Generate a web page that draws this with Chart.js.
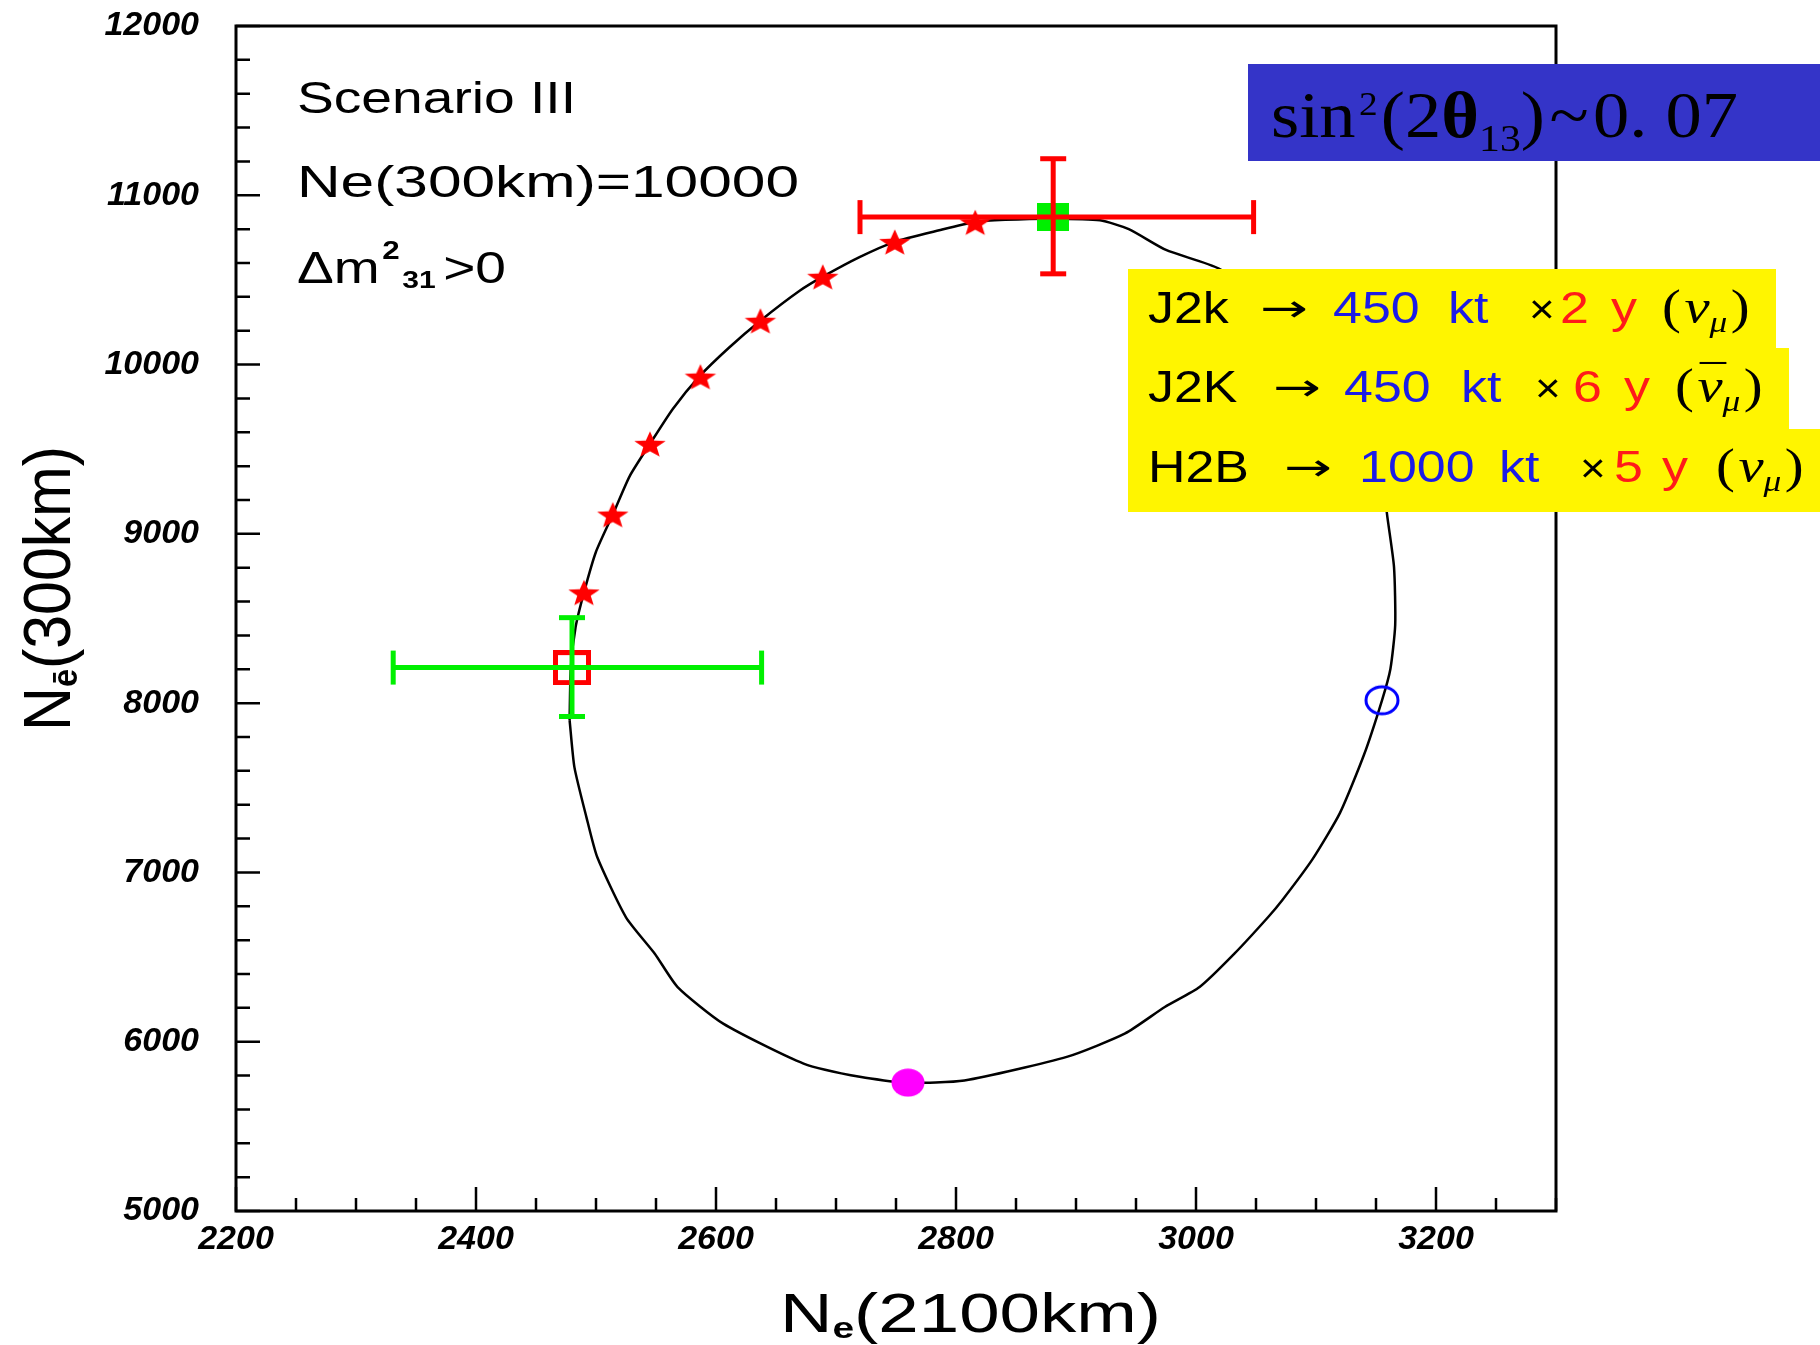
<!DOCTYPE html>
<html>
<head>
<meta charset="utf-8">
<title>Ne(2100km) vs Ne(300km)</title>
<script src="https://cdn.jsdelivr.net/npm/chart.js@4.4.1/dist/chart.umd.min.js"></script>
<style>
  html, body { margin: 0; padding: 0; background: #fff; }
  canvas { display: block; }
</style>
</head>
<body>
<canvas id="plot" width="1820" height="1345"></canvas>
<script>
// allowed contour, traced clockwise from the left edge
const curveX = [2478, 2479, 2483, 2490, 2500, 2514, 2528, 2545, 2564, 2586, 2611, 2637, 2670, 2689,
  2720, 2749, 2786, 2815, 2841, 2880, 2920, 2944, 2975, 3019, 3067, 3110, 3139, 3156, 3159, 3165,
  3166, 3162, 3155, 3140, 3120, 3097, 3072, 3060, 3032, 3003, 2974, 2941, 2893, 2807, 2759, 2721,
  2673, 2606, 2568, 2549, 2525, 2501, 2492, 2482, 2478];
const curveY = [7900, 8209, 8449, 8654, 8894, 9114, 9340, 9532, 9738, 9929, 10101, 10259, 10437, 10519,
  10636, 10725, 10793, 10841, 10855, 10862, 10852, 10800, 10677, 10567, 10313, 10025, 9683, 9374, 9127, 8805,
  8462, 8202, 8017, 7695, 7352, 7077, 6837, 6735, 6520, 6323, 6205, 6049, 5912, 5771, 5758, 5791,
  5871, 6107, 6323, 6520, 6735, 7091, 7327, 7622, 7900];

// stars on the contour
const starX = [2490, 2514, 2545, 2587, 2637, 2689, 2749, 2816];
const starY = [8654, 9114, 9532, 9929, 10259, 10519, 10725, 10841];

// fit A: red open square, green error bars
const fitA = [2480, 8210];
const fitAErrX = [2331, 2638];
const fitAErrY = [7921, 8505];

// fit B: green square, red error bars
const fitB = [2881, 10871];
const fitBErrX = [2720, 3048];
const fitBErrY = [10536, 11216];

const openCircle = [3155, 8017];
const magentaDot = [2760, 5758];

const xTicks = [2200, 2400, 2600, 2800, 3000, 3200];
const yTicks = [5000, 6000, 7000, 8000, 9000, 10000, 11000, 12000];
const xMinorStep = 50;
const yMinorStep = 200;

const exposureRows = [
  { beam: "J2k", mass: "450", years: "2", bar: false },
  { beam: "J2K", mass: "450", years: "6", bar: true },
  { beam: "H2B", mass: "1000", years: "5", bar: false }
];

const pts = (xs, ys) => xs.map((x, i) => ({ x, y: ys[i] }));
const one = p => [{ x: p[0], y: p[1] }];

// marker images
function mark(w, h, draw) {
  const c = document.createElement("canvas");
  c.width = w; c.height = h;
  draw(c.getContext("2d"), w, h);
  return c;
}
const starImg = mark(34, 30, (g, w, h) => {
  const R = 14, r = 6;
  g.translate(w / 2, h / 2 + 1.5);
  g.scale(1.18, 1);
  g.beginPath();
  for (let i = 0; i < 10; i++) {
    const rad = i % 2 ? r : R, a = -Math.PI / 2 + i * Math.PI / 5;
    g.lineTo(rad * Math.cos(a), rad * Math.sin(a));
  }
  g.closePath();
  g.fillStyle = "#ff0000";
  g.fill();
});
const redSquare = mark(38, 35, (g) => {
  g.strokeStyle = "#ff0000"; g.lineWidth = 5;
  g.strokeRect(2.5, 2.5, 33, 30);
});
const greenSquare = mark(32, 28, (g, w, h) => {
  g.fillStyle = "#00f000"; g.fillRect(0, 0, w, h);
});
const blueRing = mark(38, 33, (g, w, h) => {
  g.strokeStyle = "#0000ff"; g.lineWidth = 3;
  g.beginPath(); g.ellipse(w / 2, h / 2, 16, 13.5, 0, 0, Math.PI * 2); g.stroke();
});
const pinkDot = mark(34, 29, (g, w, h) => {
  g.fillStyle = "#ff00ff";
  g.beginPath(); g.ellipse(w / 2, h / 2, 16.5, 14, 0, 0, Math.PI * 2); g.fill();
});

function errBar(data, color, rot, cap) {
  return {
    data, showLine: true, borderColor: color, borderWidth: 5,
    pointStyle: "line", pointRotation: rot, pointRadius: cap,
    pointBorderColor: color, pointBorderWidth: 5
  };
}
function marker(data, img) {
  return { data, pointStyle: img, pointRadius: 16, borderWidth: 0, backgroundColor: "transparent" };
}

// text helper: runs of differently styled text, squeezed/stretched to a width
function rich(ctx, x, y, parts, o = {}) {
  let total = 0;
  for (const p of parts) {
    ctx.font = p.f;
    p.w = ctx.measureText(p.t).width;
    if (!p.stay) total += p.w + (p.gap || 0);
  }
  const sx = o.width ? o.width / total : (o.sx || 1);
  ctx.save();
  ctx.translate(x, y);
  if (o.rot) ctx.rotate(-Math.PI / 2);
  ctx.scale(sx, o.sy || 1);
  ctx.textAlign = "left";
  ctx.textBaseline = "alphabetic";
  let cx = 0;
  for (const p of parts) {
    ctx.font = p.f;
    ctx.fillStyle = p.c || "#000";
    ctx.fillText(p.t, cx + (p.dx || 0), p.dy || 0);
    if (!p.stay) cx += p.w + (p.gap || 0);
  }
  ctx.restore();
}

const SANS = "'Liberation Sans'";
const SERIF = "'Liberation Serif'";
const BLUE = "#1c1ce6", RED = "#ff1a1a";

const decor = {
  id: "decor",
  afterDraw(chart) {
    const { ctx, chartArea: a, scales: { x, y } } = chart;
    ctx.save();
    ctx.strokeStyle = "#000";
    ctx.lineWidth = 3;
    ctx.strokeRect(a.left, a.top, a.right - a.left, a.bottom - a.top);

    // inward ticks
    ctx.lineWidth = 2.5;
    ctx.beginPath();
    for (let v = x.min; v <= x.max; v += xMinorStep) {
      const px = x.getPixelForValue(v);
      const len = xTicks.includes(v) ? 24 : 13;
      ctx.moveTo(px, a.bottom); ctx.lineTo(px, a.bottom - len);
    }
    for (let v = y.min; v <= y.max; v += yMinorStep) {
      const py = y.getPixelForValue(v);
      const len = yTicks.includes(v) ? 24 : 14;
      ctx.moveTo(a.left, py); ctx.lineTo(a.left + len, py);
    }
    ctx.stroke();

    // scenario text
    rich(ctx, 297, 113, [{ t: "Scenario III", f: `44px ${SANS}` }], { width: 279 });
    rich(ctx, 297, 197, [{ t: "Ne(300km)=10000", f: `44px ${SANS}` }], { width: 502 });
    rich(ctx, 297, 283, [
      { t: "Δm", f: `44px ${SANS}`, gap: 2 },
      { t: "2", f: `bold 25px ${SANS}`, dy: -24, gap: 2 },
      { t: "31", f: `bold 24px ${SANS}`, dy: 5, gap: 6 },
      { t: ">0", f: `44px ${SANS}` }
    ], { width: 209 });

    // blue box
    ctx.fillStyle = "#3434c8";
    ctx.fillRect(1248, 64, 572, 97);
    rich(ctx, 1271, 137, [
      { t: "sin", f: `66px ${SERIF}`, gap: 3 },
      { t: "2", f: `34px ${SERIF}`, dy: -22, gap: 3 },
      { t: "(2", f: `66px ${SERIF}` },
      { t: "θ", f: `bold 66px ${SERIF}` },
      { t: "13", f: `38px ${SERIF}`, dy: 14 },
      { t: ")", f: `66px ${SERIF}`, gap: 4 },
      { t: "~", f: `66px ${SERIF}`, gap: 4 },
      { t: "0. 07", f: `66px ${SERIF}` }
    ], { width: 467 });

    // yellow box
    ctx.fillStyle = "#fff500";
    ctx.fillRect(1128, 269, 648, 80);
    ctx.fillRect(1128, 348, 661, 82);
    ctx.fillRect(1128, 429, 692, 83);
    const rowX = [
      [1148, 1260, 1333, 1448, 1529, 1560, 1611, 1662],
      [1148, 1273, 1344, 1461, 1535, 1573, 1624, 1675],
      [1148, 1284, 1359, 1499, 1580, 1614, 1662, 1716]
    ];
    const rowY = [323, 402, 482];
    const sx = 1.18;
    exposureRows.forEach((r, i) => {
      const X = rowX[i], Y = rowY[i];
      const f = `44px ${SANS}`;
      rich(ctx, X[0], Y, [{ t: r.beam, f }], { sx });
      rich(ctx, X[1], Y - 2, [{ t: "→", f: "38px 'DejaVu Sans'" }], { width: 48 });
      rich(ctx, X[2], Y, [{ t: r.mass, f, c: BLUE }], { sx });
      rich(ctx, X[3], Y, [{ t: "kt", f, c: BLUE }], { sx });
      rich(ctx, X[4], Y, [{ t: "×", f: `40px ${SANS}` }], { sx: 1.1 });
      rich(ctx, X[5], Y, [{ t: r.years, f, c: RED }], { sx });
      rich(ctx, X[6], Y, [{ t: "y", f, c: RED }], { sx });
      const nu = [{ t: "(", f: `48px ${SERIF}`, gap: 3 },
        { t: "ν", f: `italic 48px ${SERIF}` }];
      if (r.bar) nu.push({ t: "\u00af", f: `44px ${SERIF}`, dx: -19, dy: -6, stay: true });
      nu.push({ t: "μ", f: `italic 30px ${SERIF}`, dy: 9, gap: 3 },
        { t: ")", f: `48px ${SERIF}` });
      rich(ctx, X[7], Y, nu, { sx });
    });

    // axis titles
    rich(ctx, 780, 1332, [
      { t: "N", f: `56px ${SANS}` },
      { t: "e", f: `bold 30px ${SANS}`, dy: 6 },
      { t: "(2100km)", f: `56px ${SANS}` }
    ], { width: 381 });
    rich(ctx, 70, 731, [
      { t: "N", f: `56px ${SANS}` },
      { t: "ē", f: `bold 30px ${SANS}`, dy: 6 },
      { t: "(300km)", f: `56px ${SANS}` }
    ], { width: 285, rot: true, sy: 1.18 });
    ctx.restore();
  }
};

const tickFont = size => ({ family: "Liberation Sans", size, weight: "bold", style: "italic" });

new Chart(document.getElementById("plot"), {
  type: "scatter",
  data: {
    datasets: [
      errBar([{ x: fitBErrX[0], y: fitB[1] }, { x: fitBErrX[1], y: fitB[1] }], "#ff0000", 90, 17),
      errBar([{ x: fitB[0], y: fitBErrY[0] }, { x: fitB[0], y: fitBErrY[1] }], "#ff0000", 0, 13),
      marker(one(fitB), greenSquare),
      errBar([{ x: fitAErrX[0], y: fitA[1] }, { x: fitAErrX[1], y: fitA[1] }], "#00f000", 90, 17),
      errBar([{ x: fitA[0], y: fitAErrY[0] }, { x: fitA[0], y: fitAErrY[1] }], "#00f000", 0, 13),
      marker(one(fitA), redSquare),
      marker(one(openCircle), blueRing),
      marker(one(magentaDot), pinkDot),
      marker(pts(starX, starY), starImg),
      { data: pts(curveX, curveY), showLine: true, borderColor: "#000", borderWidth: 2.5, pointRadius: 0, tension: 0.2 }
    ]
  },
  options: {
    responsive: false,
    animation: false,
    events: [],
    layout: { padding: { top: 26, right: 264, bottom: 0, left: 0 } },
    plugins: { legend: { display: false }, tooltip: { enabled: false } },
    scales: {
      x: {
        type: "linear", min: 2200, max: 3300,
        afterFit: s => { s.height = 134; s.paddingLeft = 0; s.paddingRight = 0; },
        afterBuildTicks: s => { s.ticks = xTicks.map(value => ({ value })); },
        grid: { display: false, drawTicks: false },
        border: { display: false },
        ticks: { color: "#000", padding: 8, font: tickFont(34), autoSkip: false, maxRotation: 0, callback: v => String(v) }
      },
      y: {
        type: "linear", min: 5000, max: 12000,
        afterFit: s => { s.width = 236; s.paddingTop = 0; s.paddingBottom = 0; },
        afterBuildTicks: s => { s.ticks = yTicks.map(value => ({ value })); },
        grid: { display: false, drawTicks: false },
        border: { display: false },
        ticks: { color: "#000", padding: 37, font: tickFont(34), autoSkip: false, callback: v => String(v) }
      }
    }
  },
  plugins: [decor]
});
</script>
</body>
</html>
